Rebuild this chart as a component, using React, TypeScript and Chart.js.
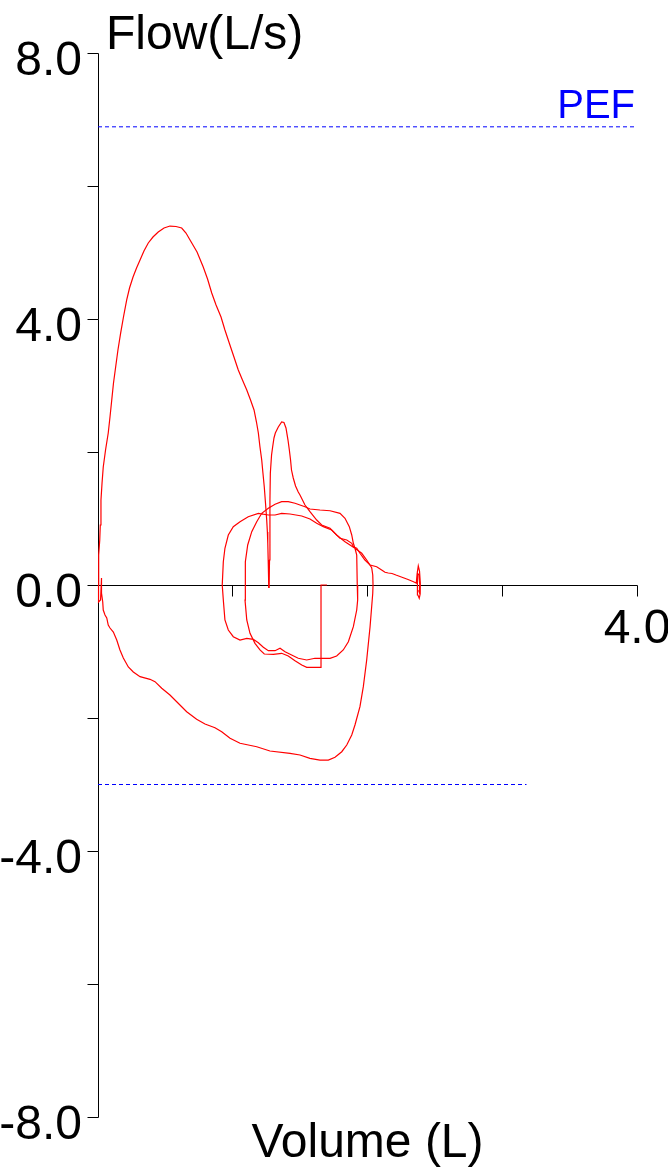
import { useEffect, useRef } from "react";
import { Chart, registerables } from "chart.js";

Chart.register(...registerables);

// ---- axes ----
const X_MIN = 0;
const X_MAX = 4;
const Y_MIN = -8;
const Y_MAX = 8;
const yTickValues = [-8, -6, -4, -2, 0, 2, 4, 6, 8];
const yTickLabels = ["-8.0", "", "-4.0", "", "0.0", "", "4.0", "", "8.0"];
const xTickValues = [1, 2, 3, 4];
const xTickLabels = ["", "", "", "4.0"];
const yTitle = "Flow(L/s)";
const xTitle = "Volume (L)";
const pefLabel = "PEF";

// ---- reference lines ----
const pefFlow = 6.89;
const lowerRefFlow = -3.0;
const lowerRefVolumeEnd = 3.18;

// ---- tidal breathing (volume L, flow L/s) ----
const tidalVolume = [
  1.699, 1.655, 1.655, 1.549, 1.512, 1.462, 1.412, 1.363, 1.301, 1.234, 1.202, 1.165, 1.128, 1.104, 1.091, 1.091,
  1.096, 1.111, 1.141, 1.178, 1.215, 1.264, 1.314, 1.363, 1.412, 1.462, 1.536, 1.573, 1.647, 1.722, 1.796, 1.833,
  1.865, 1.883, 1.895, 1.907, 1.92, 1.924, 1.927, 1.92, 1.895, 1.858, 1.82, 1.771, 1.722, 1.61, 1.549, 1.486,
  1.437, 1.388, 1.351, 1.314, 1.264, 1.227, 1.19, 1.153, 1.104, 1.054, 1.004, 0.967, 0.942, 0.93, 0.922, 0.93,
  0.942, 0.967, 1.004, 1.054, 1.115, 1.19, 1.264, 1.314, 1.363, 1.425, 1.512, 1.573, 1.623, 1.672, 1.734, 1.771,
  1.796, 1.833, 1.87, 1.907, 1.957, 1.994, 2.031, 2.039, 2.041,
];
const tidalFlow = [
  0, 0, -1.238, -1.238, -1.203, -1.138, -1.068, -1.027, -1.042, -1.038, -0.977, -0.877, -0.726, -0.526, -0.226, 0,
  0.35, 0.602, 0.802, 0.952, 1.078, 1.153, 1.214, 1.253, 1.253, 1.229, 1.177, 1.143, 1.128, 1.117, 1.078, 1.003,
  0.877, 0.752, 0.627, 0.552, 0.451, 0, -0.226, -0.376, -0.627, -0.853, -0.977, -1.068, -1.102, -1.102, -1.128, -1.102,
  -1.053, -1.003, -0.952, -0.988, -0.988, -0.937, -0.868, -0.817, -0.802, -0.827, -0.777, -0.677, -0.526, -0.226, 0, 0.35,
  0.552, 0.752, 0.877, 0.952, 1.027, 1.078, 1.053, 1.053, 1.078, 1.068, 1.038, 0.992, 0.928, 0.877, 0.827, 0.752,
  0.711, 0.651, 0.602, 0.552, 0.477, 0.376, 0.26, 0.15, 0,
];

// ---- forced inspiration ----
const inspVolume = [
  2.041, 2.039, 2.019, 1.994, 1.969, 1.944, 1.907, 1.883, 1.846, 1.809, 1.759, 1.709, 1.647, 1.573, 1.499, 1.425,
  1.276, 1.178, 1.054, 0.98, 0.918, 0.868, 0.794, 0.732, 0.658, 0.584, 0.534, 0.473, 0.423, 0.386, 0.312, 0.262,
  0.225, 0.188, 0.163, 0.139, 0.114, 0.089, 0.076, 0.065, 0.052, 0.039, 0.035, 0.026, 0.026, 0.019, 0.004, 0.004,
];
const inspFlow = [
  0, -0.125, -0.627, -1.128, -1.529, -1.83, -2.105, -2.256, -2.406, -2.507, -2.591, -2.632, -2.632, -2.606, -2.556, -2.531,
  -2.496, -2.432, -2.38, -2.305, -2.206, -2.146, -2.09, -2.02, -1.905, -1.755, -1.654, -1.553, -1.454, -1.418, -1.379, -1.308,
  -1.233, -1.098, -0.977, -0.827, -0.707, -0.647, -0.602, -0.496, -0.451, -0.376, -0.251, -0.12, 0.105, -0.226, -0.256, 0,
];

// ---- forced expiration ----
const expVolume = [
  0.004, 0.005, 0.013, 0.017, 0.022, 0.03, 0.039, 0.056, 0.076, 0.089, 0.102, 0.115, 0.131, 0.148, 0.168, 0.189,
  0.213, 0.234, 0.26, 0.286, 0.312, 0.341, 0.373, 0.408, 0.447, 0.49, 0.534, 0.579, 0.621, 0.653, 0.683, 0.735,
  0.781, 0.813, 0.844, 0.876, 0.913, 0.942, 0.974, 1.009, 1.041, 1.072, 1.104, 1.132, 1.158, 1.176, 1.19, 1.202,
  1.215, 1.224, 1.234, 1.243, 1.252, 1.257, 1.26, 1.263, 1.266, 1.269,
];
const expFlow = [
  0, 0.451, 0.677, 0.902, 1.278, 1.534, 1.774, 2.03, 2.286, 2.526, 2.782, 3.038, 3.278, 3.534, 3.789, 4.03,
  4.286, 4.466, 4.632, 4.767, 4.887, 5.023, 5.143, 5.233, 5.308, 5.368, 5.398, 5.391, 5.368, 5.293, 5.188, 5.008,
  4.782, 4.602, 4.391, 4.211, 4.03, 3.835, 3.639, 3.429, 3.233, 3.083, 2.932, 2.782, 2.632, 2.451, 2.286, 2.075,
  1.88, 1.684, 1.474, 1.233, 0.977, 0.797, 0.632, 0.376, 0.15, -0.045,
];

// ---- secondary peak and end of expiration ----
const tailVolume = [
  1.269, 1.273, 1.276, 1.276, 1.279, 1.288, 1.296, 1.306, 1.316, 1.338, 1.363, 1.38, 1.395, 1.41, 1.42, 1.429,
  1.436, 1.449, 1.466, 1.486, 1.499, 1.536, 1.573, 1.623, 1.66, 1.722, 1.759, 1.796, 1.846, 1.883, 1.895, 1.92,
  1.944, 1.981, 2.019, 2.068, 2.105, 2.13, 2.154, 2.182, 2.211, 2.241, 2.271, 2.301, 2.328, 2.345, 2.362, 2.368,
  2.377, 2.386, 2.392, 2.391, 2.384, 2.374, 2.369, 2.372, 2.381, 2.388, 2.386, 2.379,
];
const tailFlow = [
  -0.045, 0.376, 0.782, 1.278, 1.684, 1.955, 2.075, 2.211, 2.286, 2.376, 2.451, 2.444, 2.361, 2.18, 2.03, 1.88,
  1.729, 1.609, 1.489, 1.398, 1.353, 1.203, 1.102, 0.977, 0.902, 0.853, 0.777, 0.702, 0.677, 0.627, 0.576, 0.552,
  0.477, 0.376, 0.301, 0.275, 0.226, 0.191, 0.18, 0.173, 0.15, 0.128, 0.105, 0.083, 0.06, 0.045, 0.03, 0.165,
  0.286, 0.21, 0.03, -0.135, -0.2, -0.15, 0.0, 0.18, 0.15, 0.0, -0.12, -0.08,
];

const TRACE_COLOR = "#ff0000";
const REF_COLOR = "#0000ff";
const FONT = '"Liberation Sans", Arial, sans-serif';

function toPoints(xs: number[], ys: number[]) {
  return xs.map((v, i) => ({ x: v, y: ys[i] }));
}

function traceDataset(xs: number[], ys: number[]) {
  return {
    data: toPoints(xs, ys),
    showLine: true,
    borderColor: TRACE_COLOR,
    borderWidth: 1.2,
    pointRadius: 0,
    tension: 0,
    fill: false,
  };
}

const TICK = 11;
const crisp = (v: number) => Math.floor(v) + 0.5;

const axesPlugin = {
  id: "flowVolumeAxes",
  beforeDatasetsDraw(chart: any) {
    const { ctx, scales } = chart;
    const xs = scales.x;
    const ys = scales.y;
    const x0 = crisp(xs.getPixelForValue(X_MIN));
    const y0 = crisp(ys.getPixelForValue(0));
    ctx.save();
    ctx.strokeStyle = "#000000";
    ctx.lineWidth = 1;
    ctx.beginPath();
    ctx.moveTo(x0, crisp(ys.getPixelForValue(Y_MAX)));
    ctx.lineTo(x0, crisp(ys.getPixelForValue(Y_MIN)));
    ctx.moveTo(x0, y0);
    ctx.lineTo(crisp(xs.getPixelForValue(X_MAX)), y0);
    yTickValues.forEach((v) => {
      const py = crisp(ys.getPixelForValue(v));
      ctx.moveTo(x0 - TICK, py);
      ctx.lineTo(x0, py);
    });
    xTickValues.forEach((v) => {
      const px = crisp(xs.getPixelForValue(v));
      ctx.moveTo(px, y0);
      ctx.lineTo(px, y0 + TICK);
    });
    ctx.stroke();
    ctx.restore();
  },
  afterDraw(chart: any) {
    const { ctx, scales } = chart;
    const xs = scales.x;
    const ys = scales.y;
    const x0 = xs.getPixelForValue(X_MIN);
    const y0 = ys.getPixelForValue(0);
    ctx.save();
    ctx.fillStyle = "#000000";
    ctx.font = `48px ${FONT}`;
    ctx.textBaseline = "alphabetic";
    ctx.textAlign = "right";
    yTickValues.forEach((v, i) => {
      const label = yTickLabels[i];
      if (!label) return;
      ctx.fillText(label, x0 - 16, ys.getPixelForValue(v) + 22);
    });
    ctx.textAlign = "center";
    xTickValues.forEach((v, i) => {
      const label = xTickLabels[i];
      if (!label) return;
      ctx.fillText(label, xs.getPixelForValue(v), y0 + 58);
    });
    ctx.textAlign = "left";
    ctx.fillText(yTitle, x0 + 8, ys.getPixelForValue(Y_MAX) - 4);
    ctx.textAlign = "center";
    ctx.fillText(xTitle, xs.getPixelForValue((X_MIN + X_MAX) / 2), ys.getPixelForValue(Y_MIN) + 40);
    ctx.fillStyle = REF_COLOR;
    ctx.font = `40px ${FONT}`;
    ctx.textAlign = "right";
    ctx.fillText(pefLabel, xs.getPixelForValue(X_MAX) - 2, ys.getPixelForValue(pefFlow) - 9);
    ctx.restore();
  },
};

export default function App() {
  const canvasRef = useRef<HTMLCanvasElement | null>(null);

  useEffect(() => {
    const canvas = canvasRef.current;
    if (!canvas) return;
    const chart = new Chart(canvas, {
      type: "scatter",
      data: {
        datasets: [
          {
            data: [
              { x: X_MIN, y: pefFlow },
              { x: X_MAX, y: pefFlow },
            ],
            showLine: true,
            borderColor: REF_COLOR,
            borderWidth: 1,
            borderDash: [4, 3],
            pointRadius: 0,
          },
          {
            data: [
              { x: X_MIN, y: lowerRefFlow },
              { x: lowerRefVolumeEnd, y: lowerRefFlow },
            ],
            showLine: true,
            borderColor: REF_COLOR,
            borderWidth: 1,
            borderDash: [4, 3],
            pointRadius: 0,
          },
          traceDataset(tidalVolume, tidalFlow),
          traceDataset(inspVolume, inspFlow),
          traceDataset(expVolume, expFlow),
          traceDataset(tailVolume, tailFlow),
        ] as any,
      },
      options: {
        responsive: false,
        animation: false,
        devicePixelRatio: 1,
        layout: { padding: { left: 98, right: 31, top: 53, bottom: 51 } },
        plugins: {
          legend: { display: false },
          tooltip: { enabled: false },
        },
        elements: { line: { borderCapStyle: "butt" } },
        datasets: { scatter: { clip: false } } as any,
        scales: {
          x: { type: "linear", min: X_MIN, max: X_MAX, display: false },
          y: { type: "linear", min: Y_MIN, max: Y_MAX, display: false },
        },
      },
      plugins: [axesPlugin],
    });
    return () => chart.destroy();
  }, []);

  return (
    <div style={{ position: "absolute", left: 0, top: 0, width: 668, height: 1168, background: "#ffffff" }}>
      <canvas ref={canvasRef} width={668} height={1168} style={{ display: "block" }} />
    </div>
  );
}
